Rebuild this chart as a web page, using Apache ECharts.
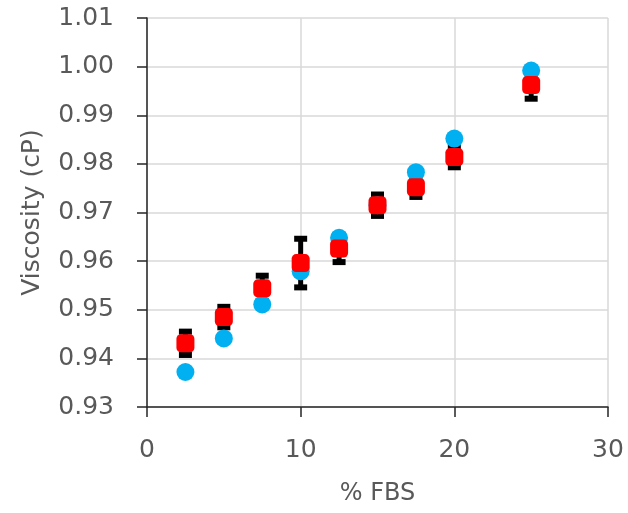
<!DOCTYPE html>
<html>
<head>
<meta charset="utf-8">
<script src="https://cdn.jsdelivr.net/npm/echarts@6/dist/echarts.min.js"></script>
<style>html,body{margin:0;padding:0;background:#fff}#c{width:628px;height:513px}</style>
</head>
<body>
<div id="c"></div>
<script>
const fbs = [2.5, 5, 7.5, 10, 12.5, 15, 17.5, 20, 25];
const viscosityBlue = [0.9372, 0.9441, 0.9511, 0.9579, 0.9648, 0.9715, 0.9783, 0.9852, 0.9992];
const viscosityRed = [0.9431, 0.9485, 0.9544, 0.9596, 0.9626, 0.9715, 0.9752, 0.9814, 0.9962];
const errRed = [0.0024, 0.0021, 0.0026, 0.0050, 0.0028, 0.0022, 0.0020, 0.0021, 0.0028];

const FONT = 'DejaVu Sans';
const TXT = '#595959';

const chart = echarts.init(document.getElementById('c'), null, {renderer: 'canvas'});
chart.setOption({
  animation: false,
  backgroundColor: '#fff',
  grid: {left: 147, right: 20, top: 18, bottom: 106, containLabel: false},
  xAxis: {
    type: 'value', min: 0, max: 30, interval: 10,
    name: '% FBS', nameLocation: 'middle', nameGap: 75,
    nameTextStyle: {fontFamily: FONT, fontSize: 24, color: TXT},
    axisLine: {show: true, onZero: false, lineStyle: {color: '#262626', width: 1.5}},
    axisTick: {show: true, length: 10, lineStyle: {color: '#262626', width: 1.5}},
    axisLabel: {fontFamily: FONT, fontSize: 25, color: TXT, margin: 31},
    splitLine: {show: true, lineStyle: {color: '#d9d9d9', width: 1.5}}
  },
  yAxis: {
    type: 'value', min: 0.93, max: 1.01, interval: 0.01,
    name: 'Viscosity (cP)', nameLocation: 'middle', nameGap: 102, nameRotate: 90,
    nameTextStyle: {fontFamily: FONT, fontSize: 25, color: TXT},
    axisLine: {show: true, onZero: false, lineStyle: {color: '#262626', width: 1.5}},
    axisTick: {show: true, length: 10, lineStyle: {color: '#262626', width: 1.5}},
    axisLabel: {fontFamily: FONT, fontSize: 25, color: TXT, margin: 33,
      formatter: v => v.toFixed(2)},
    splitLine: {show: true, lineStyle: {color: '#d9d9d9', width: 1.5}}
  },
  series: [
    {
      type: 'custom', z: 1,
      data: fbs.map((x, i) => [x, viscosityRed[i], errRed[i]]),
      renderItem: function (params, api) {
        const x = api.value(0), y = api.value(1), e = api.value(2);
        const t = api.coord([x, y + e]);
        const b = api.coord([x, y - e]);
        const hw = 6.5;
        const st = {stroke: '#000', lineWidth: 5};
        const cs = {stroke: '#000', lineWidth: 6};
        return {type: 'group', children: [
          {type: 'line', shape: {x1: t[0], y1: t[1], x2: b[0], y2: b[1]}, style: st},
          {type: 'line', shape: {x1: t[0] - hw, y1: t[1], x2: t[0] + hw, y2: t[1]}, style: cs},
          {type: 'line', shape: {x1: b[0] - hw, y1: b[1], x2: b[0] + hw, y2: b[1]}, style: cs}
        ]};
      }
    },
    {
      type: 'scatter', z: 2, symbol: 'circle', symbolSize: 18,
      itemStyle: {color: '#00B0F0', opacity: 1},
      data: fbs.map((x, i) => [x, viscosityBlue[i]])
    },
    {
      type: 'scatter', z: 3, symbol: 'roundRect', symbolSize: 18,
      itemStyle: {color: '#FF0000', opacity: 1},
      data: fbs.map((x, i) => [x, viscosityRed[i]])
    }
  ]
});
</script>
</body>
</html>
